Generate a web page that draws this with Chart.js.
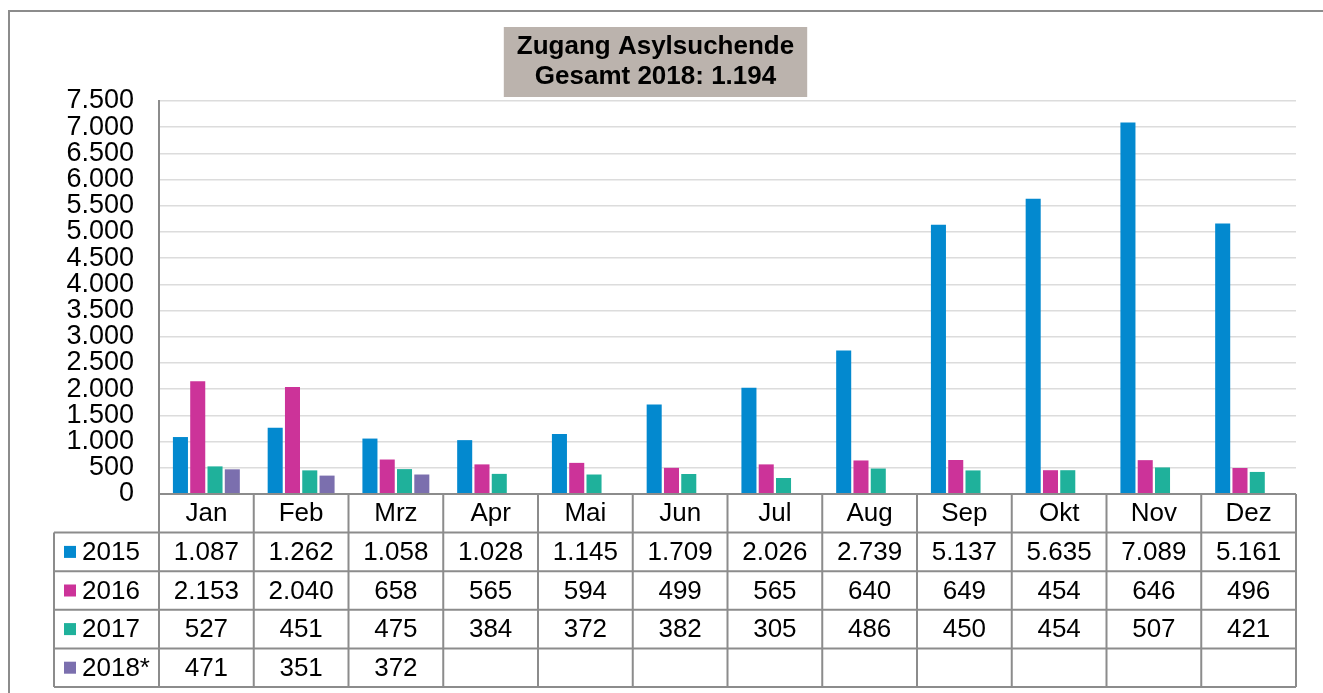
<!DOCTYPE html>
<html>
<head>
<meta charset="utf-8">
<script src="https://cdn.jsdelivr.net/npm/chart.js@4.4.1/dist/chart.umd.min.js"></script>
<style>
html,body{margin:0;padding:0;background:#fff}
</style>
</head>
<body>
<canvas id="c" width="1323" height="693"></canvas>
<script>
const months = ['Jan','Feb','Mrz','Apr','Mai','Jun','Jul','Aug','Sep','Okt','Nov','Dez']
const years = ['2015','2016','2017','2018*']
const v2015 = [1087,1262,1058,1028,1145,1709,2026,2739,5137,5635,7089,5161]
const v2016 = [2153,2040,658,565,594,499,565,640,649,454,646,496]
const v2017 = [527,451,475,384,372,382,305,486,450,454,507,421]
const v2018 = [471,351,372,null,null,null,null,null,null,null,null,null]
const colors = ['#0389cf','#cc3399','#1fb19b','#7b6fae']
const titleLines = ['Zugang Asylsuchende','Gesamt 2018: 1.194']
const yMin = 0, yMax = 7500, yStep = 500

const FONT = "'Liberation Sans', Arial, sans-serif"
const LINE = '#8c8c8c'

function fmt(n){
    return String(n).replace(/\B(?=(\d{3})+(?!\d))/g, '.')
}

// grey box behind the title + outer frame
const titleBox = {
    id:'titleBox',
    beforeDraw(chart){
        const ctx = chart.ctx
        const tb = chart.titleBlock
        ctx.save()
        ctx.font = 'bold 26px ' + FONT
        var w = Math.max(...titleLines.map(t => ctx.measureText(t).width)) + 26
        var cx = (tb.left + tb.right) / 2
        ctx.fillStyle = '#bbb3ad'
        ctx.fillRect(cx - w/2, tb.top + 27, w, 70)
        // frame
        ctx.strokeStyle = LINE
        ctx.lineWidth = 2
        ctx.beginPath()
        ctx.moveTo(9, 700)
        ctx.lineTo(9, 11)
        ctx.lineTo(1330, 11)
        ctx.stroke()
        ctx.restore()
    }
}

// data table under the chart
const dataTable = {
    id:'dataTable',
    afterDraw(chart){
        const ctx = chart.ctx
        const area = chart.chartArea
        const colW = (area.right - area.left) / months.length
        const rowH = 38.6
        const top = area.bottom
        const legL = 54
        const rows = [v2015, v2016, v2017, v2018]
        ctx.save()
        ctx.strokeStyle = LINE
        ctx.lineWidth = 2
        ctx.beginPath()
        for (var r = 0; r <= 5; r++){
            var y = top + r*rowH
            ctx.moveTo(r == 0 ? area.left : legL, y)
            ctx.lineTo(area.right, y)
        }
        for (var i = 0; i <= months.length; i++){
            var x = area.left + i*colW
            ctx.moveTo(x, top)
            ctx.lineTo(x, top + 5*rowH)
        }
        ctx.moveTo(legL, top + rowH)
        ctx.lineTo(legL, top + 5*rowH)
        ctx.stroke()

        ctx.fillStyle = '#000'
        ctx.font = '26px ' + FONT
        ctx.textBaseline = 'middle'
        ctx.textAlign = 'center'
        months.forEach((m, i) => {
            var cx = chart.scales.x.getPixelForValue(i)
            ctx.fillText(m, cx, top + rowH/2 + 1)
        })
        rows.forEach((vals, r) => {
            var cy = top + (r + 1.5)*rowH + 1
            ctx.fillStyle = colors[r]
            ctx.fillRect(64, cy - 7, 12, 12)
            ctx.fillStyle = '#000'
            ctx.textAlign = 'left'
            ctx.fillText(years[r], 82, cy)
            ctx.textAlign = 'center'
            vals.forEach((v, i) => {
                if (v == null) return
                ctx.fillText(fmt(v), chart.scales.x.getPixelForValue(i), cy)
            })
        })
        ctx.restore()
    }
}

const datasets = [v2015, v2016, v2017, v2018].map((d, i) => ({
    label: years[i],
    data: d,
    backgroundColor: colors[i],
    borderWidth: 0,
    barPercentage: 0.87,
    categoryPercentage: 0.73
}))

new Chart(document.getElementById('c'), {
    type:'bar',
    data:{ labels: months, datasets: datasets },
    options:{
        responsive:false,
        animation:false,
        devicePixelRatio:1,
        layout:{ padding:{ left:15, right:27, top:0, bottom:199 } },
        plugins:{
            legend:{ display:false },
            tooltip:{ enabled:false },
            title:{
                display:true,
                text:titleLines,
                color:'#000',
                font:{ family:FONT, size:26, weight:'bold', lineHeight:30/26 },
                padding:{ top:32, bottom:9 }
            }
        },
        scales:{
            x:{ display:false },
            y:{
                min:yMin, max:yMax,
                afterFit(scale){ scale.width = 144 },
                border:{ color:LINE, width:2 },
                grid:{ color:'#dcdcdc', lineWidth:1.5, drawTicks:false },
                ticks:{
                    stepSize:yStep,
                    autoSkip:false,
                    padding:25,
                    color:'#000',
                    font:{ family:FONT, size:27, lineHeight:1 },
                    callback: v => fmt(v)
                }
            }
        }
    },
    plugins:[titleBox, dataTable]
})
</script>
</body>
</html>
